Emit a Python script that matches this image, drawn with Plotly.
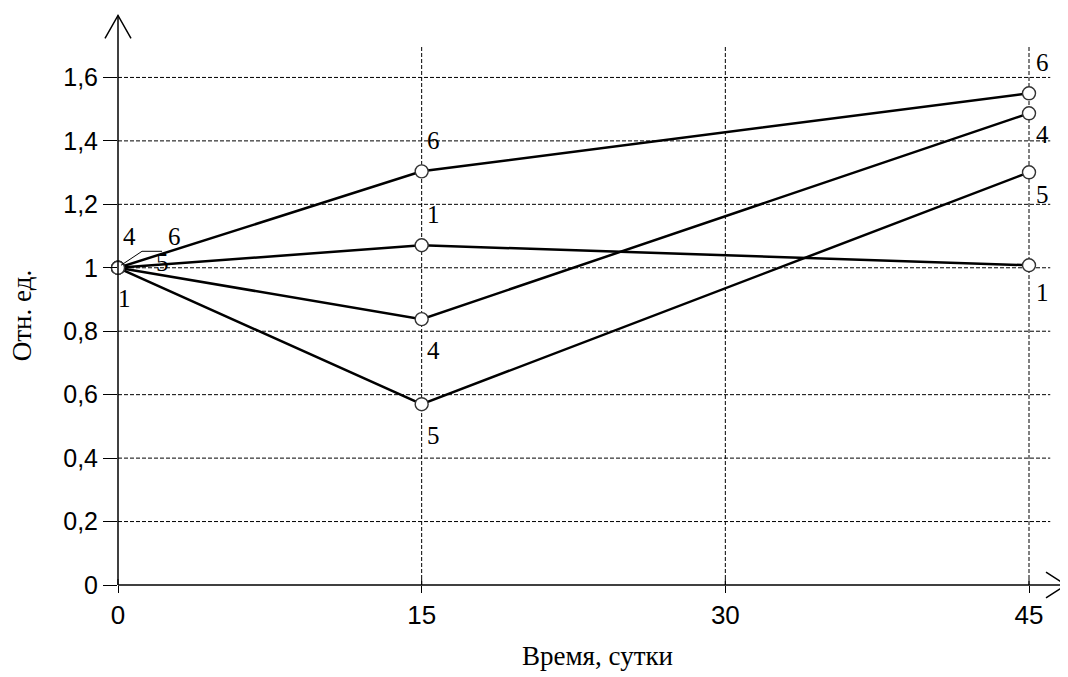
import plotly.graph_objects as go

days = [0, 15, 45]
series_names = ["1", "4", "5", "6"]
s1 = [1.0, 1.071, 1.008]
s4 = [1.0, 0.838, 1.487]
s5 = [1.0, 0.570, 1.301]
s6 = [1.0, 1.304, 1.550]
all_series = [s1, s4, s5, s6]

y_ticks = [0, 0.2, 0.4, 0.6, 0.8, 1.0, 1.2, 1.4, 1.6]
y_tick_text = ["0", "0,2", "0,4", "0,6", "0,8", "1", "1,2", "1,4", "1,6"]
x_ticks = [0, 15, 30, 45]
x_tick_text = ["0", "15", "30", "45"]
x_title = "Время, сутки"
y_title = "Отн. ед."

# page has 8px body margin; figure occupies page px 8..1068 x 8..677
W, H = 1060, 669
L, R, T, B = 110, 0, 5.5, 92
px = (1029 - 118) / 45          # px per day
py = (585 - 77) / 1.6           # px per unit
PW = W - L - R
PH = H - T - B
XMAX = PW / px
YMAX = PH / py

def X(pxl):   # page px -> paper x
    return (pxl - 118) / PW
def Y(pyl):   # page px -> paper y
    return (585 - pyl) / PH

fig = go.Figure()
for s in all_series:
    fig.add_trace(go.Scatter(
        x=days, y=s, mode="lines+markers",
        line=dict(color="black", width=2.5),
        marker=dict(symbol="circle", size=13, color="white",
                    line=dict(color="#333", width=1.4)),
        cliponaxis=False, showlegend=False, hoverinfo="skip"))

shapes = []
for yv in y_ticks[1:]:
    shapes.append(dict(type="line", xref="x", yref="y", x0=0, x1=46.05, y0=yv, y1=yv,
                       line=dict(color="black", width=1, dash="4px,2px"), layer="below"))
for xv in x_ticks[1:]:
    shapes.append(dict(type="line", xref="x", yref="y", x0=xv, x1=xv, y0=0, y1=1.70,
                       line=dict(color="black", width=1, dash="4px,2px"), layer="below"))
# axes with arrows (paper coords, unclipped)
shapes.append(dict(type="line", xref="paper", yref="paper", x0=X(118), x1=X(118), y0=Y(585), y1=Y(15),
                   line=dict(color="black", width=1.5)))
shapes.append(dict(type="line", xref="paper", yref="paper", x0=X(118), x1=X(1065), y0=Y(585), y1=Y(585),
                   line=dict(color="black", width=1.5)))
shapes.append(dict(type="path", xref="paper", yref="paper",
                   path=f"M {X(105)},{Y(38)} L {X(118)},{Y(15)} L {X(131)},{Y(38)}",
                   line=dict(color="black", width=1.5)))
shapes.append(dict(type="path", xref="paper", yref="paper",
                   path=f"M {X(1046)},{Y(572)} L {X(1066)},{Y(585)} L {X(1046)},{Y(598)}",
                   line=dict(color="black", width=1.5)))
# small leader near origin
shapes.append(dict(type="path", xref="paper", yref="paper",
                   path=f"M {X(121)},{Y(265)} L {X(142)},{Y(251)} L {X(162)},{Y(251)}",
                   line=dict(color="black", width=1)))
# x-axis ticks crossing slightly above
for xv in x_ticks:
    xp = 118 + xv * px
    shapes.append(dict(type="line", xref="paper", yref="paper", x0=X(xp), x1=X(xp),
                       y0=Y(585), y1=Y(579), line=dict(color="black", width=1)))

labels = [
    (0, 1.0, "4", 11, -31),
    (0, 1.0, "6", 56, -31),
    (0, 1.0, "5", 44, -5),
    (0, 1.0, "1", 6, 31),
    (15, s6[1], "6", 12, -31),
    (15, s1[1], "1", 12, -31),
    (15, s4[1], "4", 12, 31),
    (15, s5[1], "5", 12, 31),
    (45, s6[2], "6", 13, -31),
    (45, s4[2], "4", 13, 21),
    (45, s5[2], "5", 13, 22),
    (45, s1[2], "1", 13, 27),
]
annotations = []
for x, y, t, ox, oy in labels:
    annotations.append(dict(x=x, y=y, xref="x", yref="y", text=t, showarrow=False,
                            xshift=ox, yshift=-oy,
                            font=dict(family="Liberation Serif", size=25, color="black")))
annotations.append(dict(x=X(22), y=Y(316), xref="paper", yref="paper", text=y_title,
                        showarrow=False, textangle=-90, xanchor="center", yanchor="middle",
                        font=dict(family="Liberation Serif", size=27, color="black")))
annotations.append(dict(x=X(597), y=Y(656), xref="paper", yref="paper", text=x_title,
                        showarrow=False, xanchor="center", yanchor="middle",
                        font=dict(family="Liberation Serif", size=27, color="black")))

fig.update_layout(
    width=W, height=H,
    margin=dict(l=L, r=R, t=T, b=B, autoexpand=False),
    plot_bgcolor="white", paper_bgcolor="white",
    shapes=shapes, annotations=annotations,
    xaxis=dict(range=[0, XMAX], tickvals=x_ticks, ticktext=x_tick_text,
               showgrid=False, zeroline=False, showline=False,
               ticks="outside", ticklen=7, tickcolor="black", tickwidth=1,
               ticklabelstandoff=0,
               tickfont=dict(family="Liberation Sans", size=26, color="black")),
    yaxis=dict(range=[0, YMAX], tickvals=y_ticks, ticktext=y_tick_text,
               showgrid=False, zeroline=False, showline=False,
               ticks="outside", ticklen=14, tickcolor="black", tickwidth=1,
               tickfont=dict(family="Liberation Sans", size=25, color="black")),
)

fig.write_html("out.html")
